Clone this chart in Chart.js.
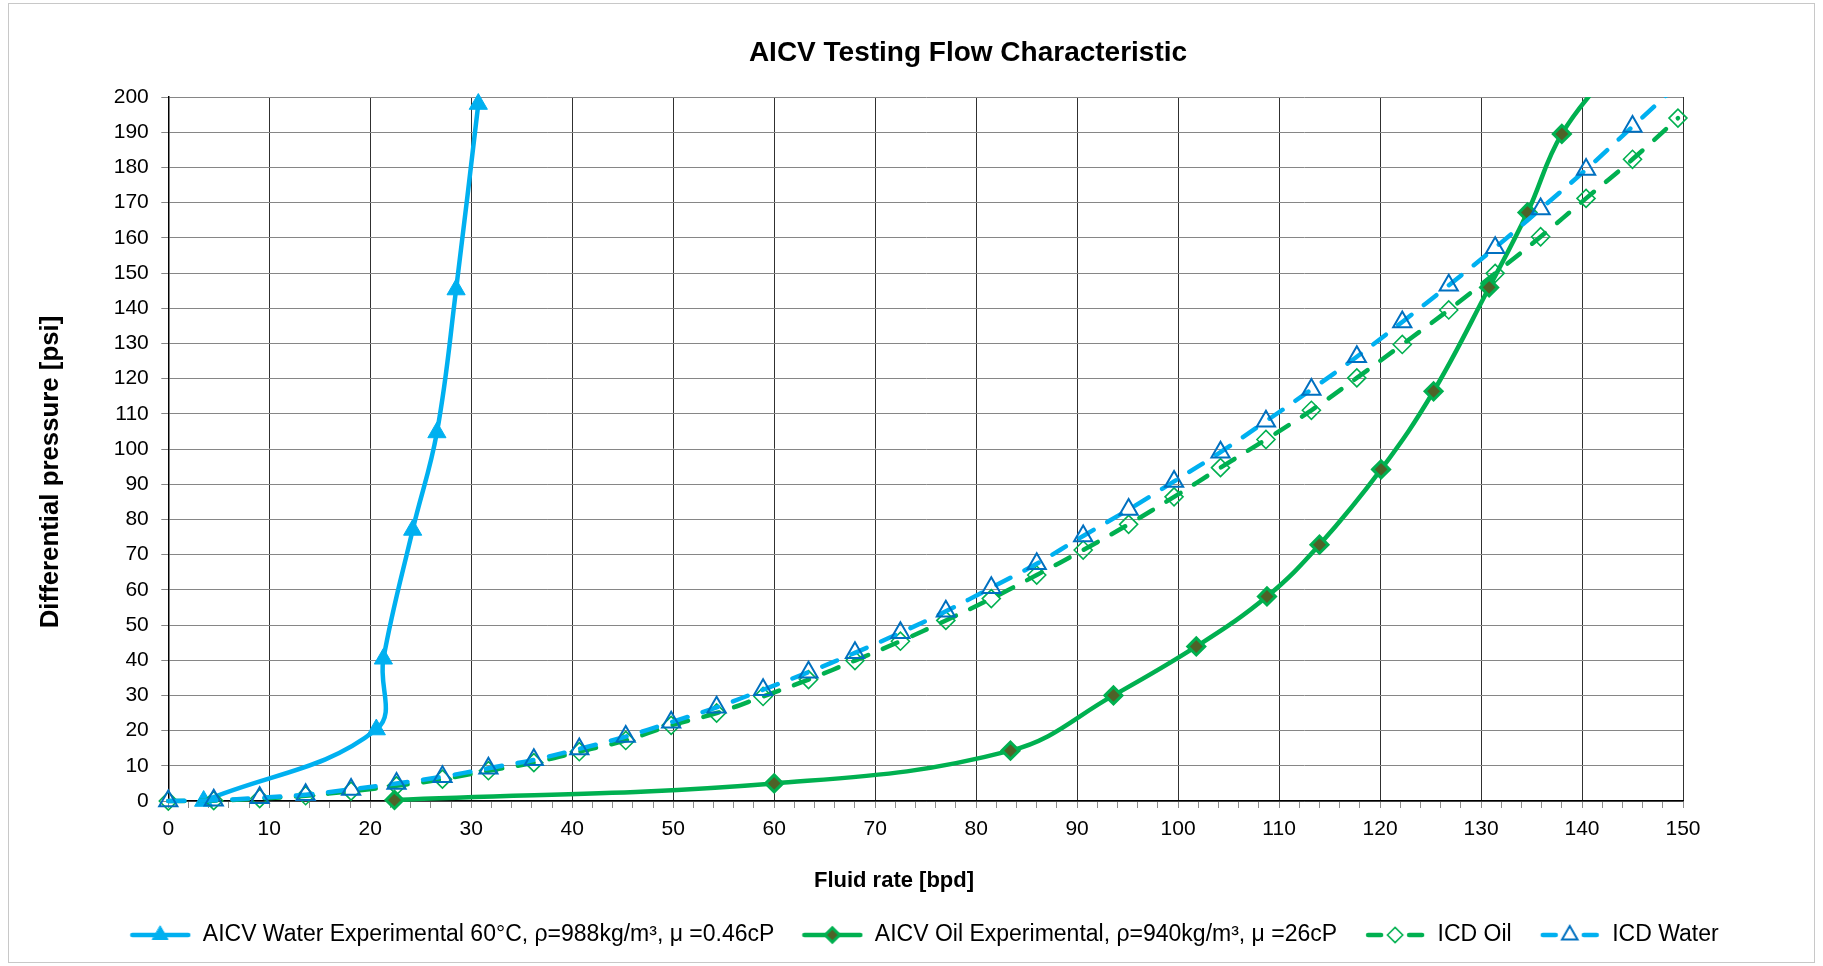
<!DOCTYPE html>
<html>
<head>
<meta charset="utf-8">
<title>AICV Testing Flow Characteristic</title>
<script src="https://cdn.jsdelivr.net/npm/chart.js@4/dist/chart.umd.min.js"></script>
<style>
  html, body { margin: 0; padding: 0; background: #ffffff; }
  #wrap { position: relative; width: 1823px; height: 966px; }
  canvas { display: block; }
</style>
</head>
<body>
<div id="wrap"><canvas id="flowChart" width="1823" height="966"></canvas></div>
<script>
// ---- Measured data -------------------------------------------------------
// AICV, water at 60 °C
const waterRate = [3.5, 20.6, 21.3, 24.2, 26.6, 28.5, 30.7];
const waterDp   = [0, 20.3, 40.4, 77, 104.7, 145.3, 198];

// AICV, oil (26 cP)
const oilRate = [22.4, 60, 83.4, 93.6, 101.8, 108.8, 114, 120.1, 125.3, 130.8, 134.6, 138, 143.5];
const oilDp   = [0.3, 5, 14.3, 30, 43.9, 58.1, 72.8, 94.2, 116.4, 145.9, 167.2, 189.5, 210];

// ICD reference curves (shared rate points)
const icdRate = [0, 4.5, 9.05, 13.6, 18.1, 22.6, 27.15, 31.7, 36.2, 40.7, 45.3, 49.8, 54.3, 58.9,
                 63.4, 68, 72.5, 77, 81.5, 86, 90.6, 95.1, 99.6, 104.2, 108.7, 113.2, 117.7,
                 122.2, 126.8, 131.4, 135.9, 140.4, 145, 149.5];
const icdOilDp   = [0, 0.1, 0.7, 1.5, 2.8, 4.3, 6.2, 8.6, 10.9, 14.0, 17.2, 21.5, 25.0, 29.7,
                    34.5, 39.9, 45.4, 51.3, 57.5, 64.2, 71.3, 78.6, 86.4, 94.7, 102.7, 111.0, 120.2,
                    129.7, 139.5, 149.9, 160.3, 171.2, 182.3, 194.0];
const icdWaterDp = [0, 0.2, 0.9, 1.8, 3.3, 5.0, 6.9, 9.3, 11.7, 14.8, 18.3, 22.4, 26.6, 31.6,
                    36.6, 42.1, 47.8, 53.9, 60.6, 67.4, 75.3, 82.8, 90.8, 99.1, 107.9, 116.9, 126.2,
                    136.1, 146.5, 157.2, 168.2, 179.4, 191.6, 203.5];

// Axis settings
const xMin = 0, xMax = 150, xMinorStep = 2, xMajorStep = 10;
const yMin = 0, yMax = 200, yStep = 10;

const seriesLabels = [
  'AICV Water Experimental 60°C, ρ=988kg/m³, μ =0.46cP',
  'AICV Oil Experimental, ρ=940kg/m³, μ =26cP',
  'ICD Oil',
  'ICD Water'
];
const chartTitle = 'AICV Testing Flow Characteristic';
const xTitle = 'Fluid rate [bpd]';
const yTitle = 'Differential pressure [psi]';

// ---- Styling ---------------------------------------------------------------
const FONT = '"Liberation Sans", Arial, Helvetica, sans-serif';
const BLUE = '#00B0F0';
const DARK_BLUE = '#0070C0';
const GREEN = '#00B050';
const OLIVE = '#4F6228';
const NONE = 'rgba(255,255,255,0)';

const toPoints = (xs, ys) => xs.map((x, i) => ({ x: x, y: ys[i] }));

const seriesStyles = [
  { line: BLUE, dash: [], pointStyle: 'triangle', radius: 10.5, fill: BLUE, stroke: BLUE, pw: 1 },
  { line: GREEN, dash: [], pointStyle: 'rectRot', radius: 8.5, fill: OLIVE, stroke: GREEN, pw: 3 },
  { line: GREEN, dash: [16, 16], pointStyle: 'rectRot', radius: 9, fill: NONE, stroke: GREEN, pw: 1.6 },
  { line: BLUE, dash: [16, 16], pointStyle: 'triangle', radius: 10.5, fill: NONE, stroke: DARK_BLUE, pw: 2 }
];

// Legend swatches: line segment with the series marker in the middle
function makeSwatch(st) {
  const c = document.createElement('canvas');
  c.width = 62; c.height = 26;
  const g = c.getContext('2d');
  g.strokeStyle = st.line;
  g.lineWidth = 4.5;
  g.lineCap = 'round';
  g.beginPath();
  if (st.dash.length) {
    g.moveTo(4, 13); g.lineTo(17, 13);
    g.moveTo(45, 13); g.lineTo(58, 13);
  } else {
    g.moveTo(3, 13); g.lineTo(59, 13);
  }
  g.stroke();
  g.fillStyle = st.fill === NONE ? '#ffffff' : st.fill;
  g.strokeStyle = st.stroke;
  g.lineWidth = st.pw;
  Chart.helpers.drawPoint(g, { pointStyle: st.pointStyle, radius: st.radius * 0.85, rotation: 0, borderWidth: st.pw }, 31, 13);
  return c;
}
const swatches = seriesStyles.map(makeSwatch);

const seriesData = [
  toPoints(waterRate, waterDp),
  toPoints(oilRate, oilDp),
  toPoints(icdRate, icdOilDp),
  toPoints(icdRate, icdWaterDp)
];

const topClip = { left: false, top: 0, right: false, bottom: false };

const datasets = seriesData.map((pts, i) => {
  const st = seriesStyles[i];
  return {
    label: seriesLabels[i],
    data: pts,
    showLine: true,
    borderColor: st.line,
    backgroundColor: st.fill,
    borderWidth: 4.5,
    borderDash: st.dash,
    borderCapStyle: 'round',
    tension: 0.4,
    pointStyle: st.pointStyle,
    pointRadius: st.radius,
    pointHoverRadius: st.radius,
    pointBackgroundColor: st.fill,
    pointBorderColor: st.stroke,
    pointBorderWidth: st.pw,
    clip: i === 0 ? false : topClip,
    order: 4 - i
  };
});

// Outer frame, chart title and axis titles
const textPlugin = {
  id: 'frameAndTitles',
  beforeDraw(chart) {
    const { ctx, width, height } = chart;
    ctx.save();
    ctx.fillStyle = '#ffffff';
    ctx.fillRect(0, 0, width, height);
    ctx.strokeStyle = '#c8c8c8';
    ctx.lineWidth = 1;
    ctx.strokeRect(8.5, 3.5, width - 17, height - 7);
    ctx.restore();
  },
  afterDraw(chart, args, opts) {
    const { ctx } = chart;
    ctx.save();
    ctx.fillStyle = '#000000';
    ctx.textAlign = 'center';
    ctx.textBaseline = 'middle';
    opts.items.forEach(t => {
      ctx.save();
      ctx.font = 'bold ' + t.size + 'px ' + FONT;
      ctx.translate(t.x, t.y);
      ctx.rotate(t.rotate || 0);
      ctx.fillText(t.text, 0, 0);
      ctx.restore();
    });
    ctx.restore();
  }
};

Chart.defaults.font.family = FONT;
Chart.defaults.color = '#000000';

new Chart(document.getElementById('flowChart'), {
  type: 'scatter',
  data: { datasets: datasets },
  plugins: [textPlugin],
  options: {
    responsive: false,
    animation: false,
    devicePixelRatio: 1,
    events: [],
    layout: { padding: { top: 97, left: 80, right: 55, bottom: 9.5 } },
    plugins: {
      frameAndTitles: {
        items: [
          { text: chartTitle, x: 968, y: 53, size: 28 },
          { text: xTitle, x: 894, y: 881, size: 22 },
          { text: yTitle, x: 51, y: 472, size: 25.8, rotate: -Math.PI / 2 }
        ]
      },
      title: { display: false },
      tooltip: { enabled: false },
      legend: {
        position: 'bottom',
        fullSize: true,
        labels: {
          usePointStyle: true,
          pointStyleWidth: 62,
          boxHeight: 20,
          padding: 27,
          color: '#000000',
          font: { size: 23 },
          sort: (a, b) => a.datasetIndex - b.datasetIndex,
          generateLabels(chart) {
            const items = Chart.defaults.plugins.legend.labels.generateLabels(chart);
            return items.map(it => Object.assign(it, {
              pointStyle: swatches[it.datasetIndex],
              rotation: 0,
              fontColor: '#000000'
            }));
          }
        }
      }
    },
    scales: {
      x: {
        type: 'linear',
        min: xMin,
        max: xMax,
        afterFit(scale) { scale.height = 95.5; },
        ticks: {
          stepSize: xMinorStep,
          autoSkip: false,
          maxRotation: 0,
          minRotation: 0,
          padding: 8.5,
          color: '#000000',
          font: { size: 21 },
          callback: v => (v % xMajorStep === 0 ? String(v) : '')
        },
        grid: {
          color: c => (c.tick && c.tick.value % xMajorStep === 0 ? '#303030' : NONE),
          tickColor: '#8c8c8c',
          tickLength: 7,
          lineWidth: 1
        },
        border: { color: '#000000', width: 1.5 },
        title: { display: false }
      },
      y: {
        type: 'linear',
        position: 'left',
        min: yMin,
        max: yMax,
        afterFit(scale) { scale.width = 88.3; },
        ticks: {
          stepSize: yStep,
          padding: 12.5,
          color: '#000000',
          font: { size: 21 }
        },
        grid: {
          color: '#868686',
          tickColor: '#868686',
          tickLength: 7,
          lineWidth: 1
        },
        border: { color: '#000000', width: 1.5 },
        title: { display: false }
      },
      // empty right-hand gutter so the plot ends where the frame needs it
      gutter: {
        type: 'linear',
        position: 'right',
        display: true,
        min: yMin,
        max: yMax,
        afterFit(scale) { scale.width = 85; },
        ticks: { display: false },
        grid: { display: false, drawOnChartArea: false, drawTicks: false },
        border: { display: false },
        title: { display: false }
      }
    }
  }
});
</script>
</body>
</html>
